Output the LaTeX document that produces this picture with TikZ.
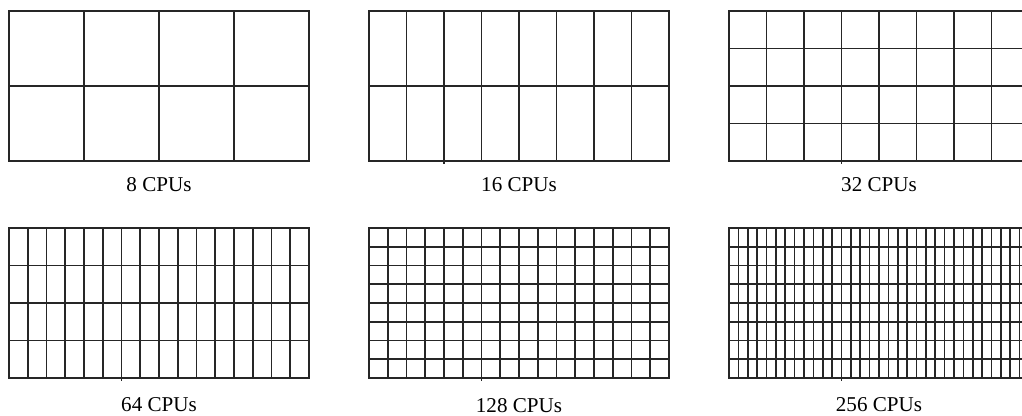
\documentclass[tikz,border=0pt]{standalone}
\usepackage{fontspec}
\setmainfont{Liberation Serif}

\begin{document}
\begin{tikzpicture}[line width=0.9pt]
		\tikzstyle{mesh}=[draw=black!85,line width=0.9pt]
		\tikzstyle{caption}=[font=\fontsize{12}{14}\selectfont,inner sep=0pt,anchor=base]
		\useasboundingbox (0,0) rectangle (20.44,8.32);
		\clip (0,0) rectangle (20.44,8.32);

		% top row
		\draw[mesh,shift={(0.18,5.1)}] (0,0) grid[xstep=1.5,ystep=1.5] (6,3) rectangle (0,0);
		\draw[mesh,shift={(7.38,5.1)}] (0,0) grid[xstep=0.75,ystep=1.5] (6,3) rectangle (0,0);
		\draw[mesh,shift={(14.58,5.1)}] (0,0) grid[xstep=0.75,ystep=0.75] (6,3) rectangle (0,0);
		\draw[mesh] (8.88,5.1) -- (8.88,5.03);
		\draw[mesh] (16.83,5.1) -- (16.83,5.03);

		% bottom row
		\draw[mesh,shift={(0.18,0.76)}] (0,0) grid[xstep=0.375,ystep=0.75] (6,3) rectangle (0,0);
		\draw[mesh,shift={(7.38,0.76)}] (0,0) grid[xstep=0.375,ystep=0.375] (6,3) rectangle (0,0);
		\draw[mesh,shift={(14.58,0.76)}] (0,0) grid[xstep=0.1875,ystep=0.375] (6,3) rectangle (0,0);
		\draw[mesh] (2.43,0.76) -- (2.43,0.69);
		\draw[mesh] (9.63,0.76) -- (9.63,0.69);
		\draw[mesh] (16.83,0.76) -- (16.83,0.69);

		\node[caption] (c8) at (3.18,4.48) {8 CPUs};
		\node[caption] (c16) at (10.38,4.48) {16 CPUs};
		\node[caption] (c32) at (17.58,4.48) {32 CPUs};
		\node[caption] (c64) at (3.18,0.08) {64 CPUs};
		\node[caption] (c128) at (10.38,0.07) {128 CPUs};
		\node[caption] (c256) at (17.58,0.09) {256 CPUs};
\end{tikzpicture}
\end{document}
